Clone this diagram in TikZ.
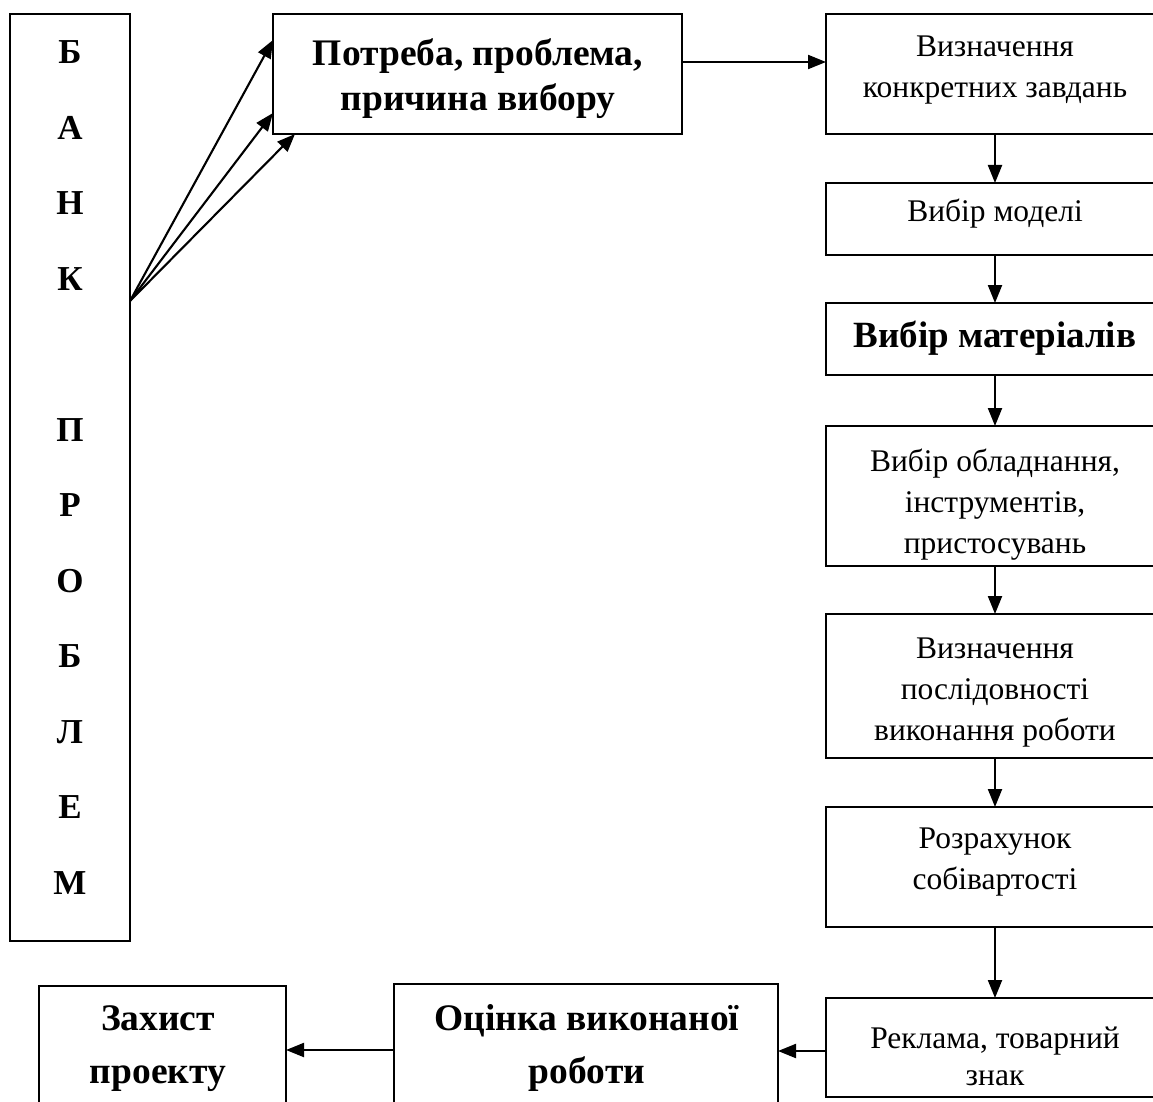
\documentclass[tikz,border=0pt]{standalone}
\usepackage{fontspec}
\setmainfont{Liberation Serif}
\usetikzlibrary{arrows.meta}
\tikzset{
  box/.style={draw, line width=2.1pt, inner sep=0pt, outer sep=0pt},
  colbox/.style={box, minimum width=338pt},
  txt/.style={align=center, inner sep=0pt, font=\fontsize{31.5}{41}\selectfont},
  btxt/.style={align=center, inner sep=0pt, font=\bfseries\fontsize{37.5}{45}\selectfont},
  arr/.style={line width=2.1pt, -{Triangle[length=18pt,width=14pt]}}
}
\begin{document}
\begin{tikzpicture}[x=1pt,y=-1pt]
\clip (0,0) rectangle (1153,1102);
\fill[white] (0,0) rectangle (1153,1102);
% bank
\node[box, minimum width=120pt, minimum height=927pt] (bank) at (70,477.5) {};
\node[align=center, inner sep=0pt, font=\bfseries\fontsize{35}{75.5}\selectfont] (bankt) at (70,467.3)
  {Б\\А\\Н\\К\\\mbox{}\\П\\Р\\О\\Б\\Л\\Е\\М};
% top box
\node[box, minimum width=409pt, minimum height=120pt] (p) at (477.5,74) {};
\node[btxt] (tp) at (478,79) {Потреба, проблема,\\причина вибору};
% right column
\node[colbox, minimum height=120pt] (b1) at (995,74) {};
\node[txt] (t1) at (995,70.5) {Визначення\\конкретних завдань};
\node[colbox, minimum height=72pt] (b2) at (995,219) {};
\node[txt] (t2) at (995,214) {Вибір моделі};
\node[colbox, minimum height=72pt] (b3) at (995,339) {};
\node[txt, font=\bfseries\fontsize{37}{41}\selectfont] (t3) at (995,338) {Вибір матеріалів};
\node[colbox, minimum height=140pt] (b4) at (995,496) {};
\node[txt] (t4) at (995,504.5) {Вибір обладнання,\\інструментів,\\пристосувань};
\node[colbox, minimum height=144pt] (b5) at (995,686) {};
\node[txt] (t5) at (995,693) {Визначення\\послідовності\\виконання роботи};
\node[colbox, minimum height=120pt] (b6) at (995,867) {};
\node[txt] (t6) at (995,862) {Розрахунок\\собівартості};
\node[colbox, minimum height=99pt] (b7) at (995,1047.5) {};
\node[txt, font=\fontsize{31.5}{37}\selectfont] (t7) at (995,1056) {Реклама, товарний\\знак};
% bottom boxes
\node[box, minimum width=384pt, minimum height=126pt] (o) at (586,1047) {};
\node[btxt, font=\bfseries\fontsize{37.5}{53}\selectfont] (to) at (587,1048) {Оцінка виконаної\\роботи};
\node[box, minimum width=247pt, minimum height=124pt] (z) at (162.5,1048) {};
\node[btxt, font=\bfseries\fontsize{37.5}{53}\selectfont] (tz) at (158,1049) {Захист\\проекту};
% connectors from bank
\coordinate (bo) at ([yshift=176.5pt]bank.east);
\draw[arr] (bo) -- ([yshift=34pt]p.west);
\draw[arr] (bo) -- ([yshift=-39pt]p.west);
\draw[arr] (bo) -- ([xshift=22pt]p.south west);
% main chain
\draw[arr] ([yshift=12pt]p.east) -- ([yshift=12pt]b1.west);
\draw[arr] (b1) -- (b2);
\draw[arr] (b2) -- (b3);
\draw[arr] (b3) -- (b4);
\draw[arr] (b4) -- (b5);
\draw[arr] (b5) -- (b6);
\draw[arr] (b6) -- (b7);
\draw[arr] ([yshift=-3.5pt]b7.west) -- ([yshift=-3.5pt]b7.west -| o.east);
\draw[arr] ([yshift=-3pt]o.west) -- ([yshift=-3pt]o.west -| z.east);
\end{tikzpicture}
\end{document}
